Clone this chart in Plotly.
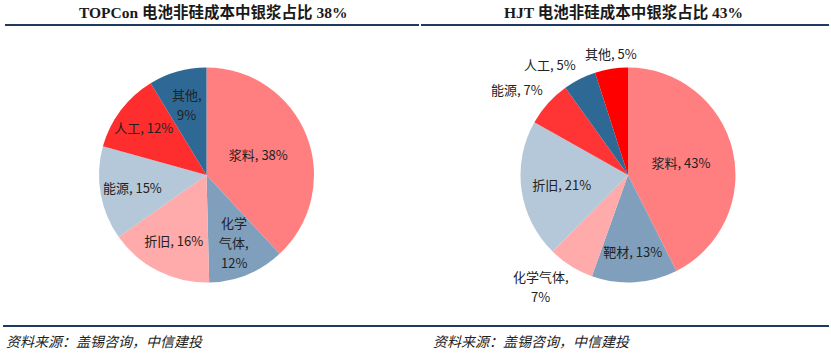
import math
import plotly.graph_objects as go

W, H = 831, 353

topcon_labels = ["浆料", "化学气体", "折旧", "能源", "人工", "其他"]
topcon_values = [38.1, 11.5, 15.6, 14.1, 12.0, 8.7]
topcon_text = [["浆料, 38%"], ["化学", "气体,", "12%"], ["折旧, 16%"], ["能源, 15%"], ["人工, 12%"], ["其他,", "9%"]]
topcon_colors = ["#FF7F80", "#7F9FBC", "#FFAAAB", "#B5C8D9", "#FF2E2E", "#2E6894"]

# Right pie: HJT
hjt_labels = ["浆料", "靶材", "化学气体", "折旧", "能源", "人工", "其他"]
hjt_values = [43, 13, 7, 21, 7, 5, 5]
hjt_text = [["浆料, 43%"], ["靶材, 13%"], ["化学气体,", "7%"], ["折旧, 21%"], ["能源, 7%"], ["人工, 5%"], ["其他, 5%"]]
hjt_colors = ["#FF7F80", "#7F9FBC", "#FFAAAB", "#B5C8D9", "#FF3434", "#2E6894", "#FF0000"]
hjt_outside = [False, False, True, False, True, True, True]

titles = ["TOPCon 电池非硅成本中银浆占比 38%", "HJT 电池非硅成本中银浆占比 43%"]
source = "资料来源：盖锡咨询，中信建投"

FS = 13
LH = 20
label_font = dict(family="Noto Sans CJK SC, Noto Sans, sans-serif", size=FS, color="#222222")

R = 107.5
LEFT_C = (206.5, 175)
RIGHT_C = (628, 175)


def pie_domain(cx, cy, r):
    return dict(x=[(cx - r) / W, (cx + r) / W], y=[1 - (cy + r) / H, 1 - (cy - r) / H])


def text_w(s):
    return sum(FS if ord(ch) > 0x2E80 else FS * 0.55 for ch in s)


annotations = []


def add_block(lines, px, py, xa, ya):
    """Stack lines (each its own annotation) as a centred block anchored at px, py."""
    w = max(text_w(s) for s in lines)
    h = LH * len(lines)
    cx = px - w / 2 if xa == "right" else (px + w / 2 if xa == "left" else px)
    top = py - h if ya == "bottom" else (py if ya == "top" else py - h / 2)
    for i, s in enumerate(lines):
        y = top + LH * (i + 0.5)
        annotations.append(dict(text=s, x=cx / W, y=1 - y / H, xref="paper", yref="paper",
                                showarrow=False, font=label_font, xanchor="center",
                                yanchor="middle"))


def mid_angles(values):
    total = sum(values)
    cum, out = 0.0, []
    for v in values:
        out.append((cum + v / 2) / total * 2 * math.pi)
        cum += v
    return out


# Left pie: single-line labels by plotly, wrapped ones as stacked blocks
left_multi = [len(t) > 1 for t in topcon_text]
fig = go.Figure()
fig.add_trace(go.Pie(
    labels=topcon_labels, values=topcon_values, text=[t[0] for t in topcon_text],
    textinfo="text", textposition=[("none" if m else "inside") for m in left_multi],
    insidetextorientation="horizontal",
    marker=dict(colors=topcon_colors, line=dict(width=0)),
    sort=False, direction="clockwise", rotation=0,
    domain=pie_domain(LEFT_C[0], LEFT_C[1], R),
    insidetextfont=label_font,
    showlegend=False, hoverinfo="label+value",
))
for a, t, m in zip(mid_angles(topcon_values), topcon_text, left_multi):
    if m:
        px = LEFT_C[0] + 0.68 * R * math.sin(a)
        py = LEFT_C[1] - 0.68 * R * math.cos(a)
        add_block(t, px, py, "center", "middle")

fig.add_trace(go.Pie(
    labels=hjt_labels, values=hjt_values, text=[t[0] for t in hjt_text],
    textinfo="text", textposition=[("none" if o else "inside") for o in hjt_outside],
    insidetextorientation="horizontal",
    marker=dict(colors=hjt_colors, line=dict(width=0)),
    sort=False, direction="clockwise", rotation=0,
    domain=pie_domain(RIGHT_C[0], RIGHT_C[1], R),
    insidetextfont=label_font,
    showlegend=False, hoverinfo="label+value",
))

# Outside labels (Excel "outside end" style), placed from the slice mid-angles
for a, t, o in zip(mid_angles(hjt_values), hjt_text, hjt_outside):
    if not o:
        continue
    s, c = math.sin(a), math.cos(a)
    gap = 5 if c > 0 else 1
    px = RIGHT_C[0] + (R + gap) * s
    py = RIGHT_C[1] - (R + gap) * c
    xa = "right" if s < -0.3 else ("left" if s > 0.3 else "center")
    ya = "bottom" if c > 0.3 else ("top" if c < -0.3 else "middle")
    add_block(t, px, py, xa, ya)

title_font = dict(family="Liberation Serif, Noto Sans CJK SC, serif", size=15.5, color="#1a1a1a")
src_font = dict(family="Liberation Serif, Noto Sans CJK SC, serif", size=14, color="#222222")

annotations += [
    dict(text="<b>%s</b>" % titles[0], x=213 / W, y=1 - 12 / H, xref="paper", yref="paper",
         showarrow=False, font=title_font, xanchor="center", yanchor="middle"),
    dict(text="<b>%s</b>" % titles[1], x=623 / W, y=1 - 12 / H, xref="paper", yref="paper",
         showarrow=False, font=title_font, xanchor="center", yanchor="middle"),
    dict(text="<i>%s</i>" % source, x=4 / W, y=1 - 342 / H, xref="paper", yref="paper",
         showarrow=False, font=src_font, xanchor="left", yanchor="middle"),
    dict(text="<i>%s</i>" % source, x=431 / W, y=1 - 342 / H, xref="paper", yref="paper",
         showarrow=False, font=src_font, xanchor="left", yanchor="middle"),
]

line_color = "#1F3A5F"
shapes = [
    dict(type="line", xref="paper", yref="paper", x0=5 / W, x1=419 / W, y0=1 - 25 / H, y1=1 - 25 / H,
         line=dict(color=line_color, width=2)),
    dict(type="line", xref="paper", yref="paper", x0=421 / W, x1=829 / W, y0=1 - 25 / H, y1=1 - 25 / H,
         line=dict(color=line_color, width=2)),
    dict(type="line", xref="paper", yref="paper", x0=3 / W, x1=829 / W, y0=1 - 326 / H, y1=1 - 326 / H,
         line=dict(color=line_color, width=2)),
]

fig.update_layout(
    width=W, height=H,
    margin=dict(l=0, r=0, t=0, b=0),
    paper_bgcolor="white", plot_bgcolor="white",
    annotations=annotations, shapes=shapes,
    uniformtext=dict(minsize=13, mode="show"),
)

fig.write_html("out.html")
